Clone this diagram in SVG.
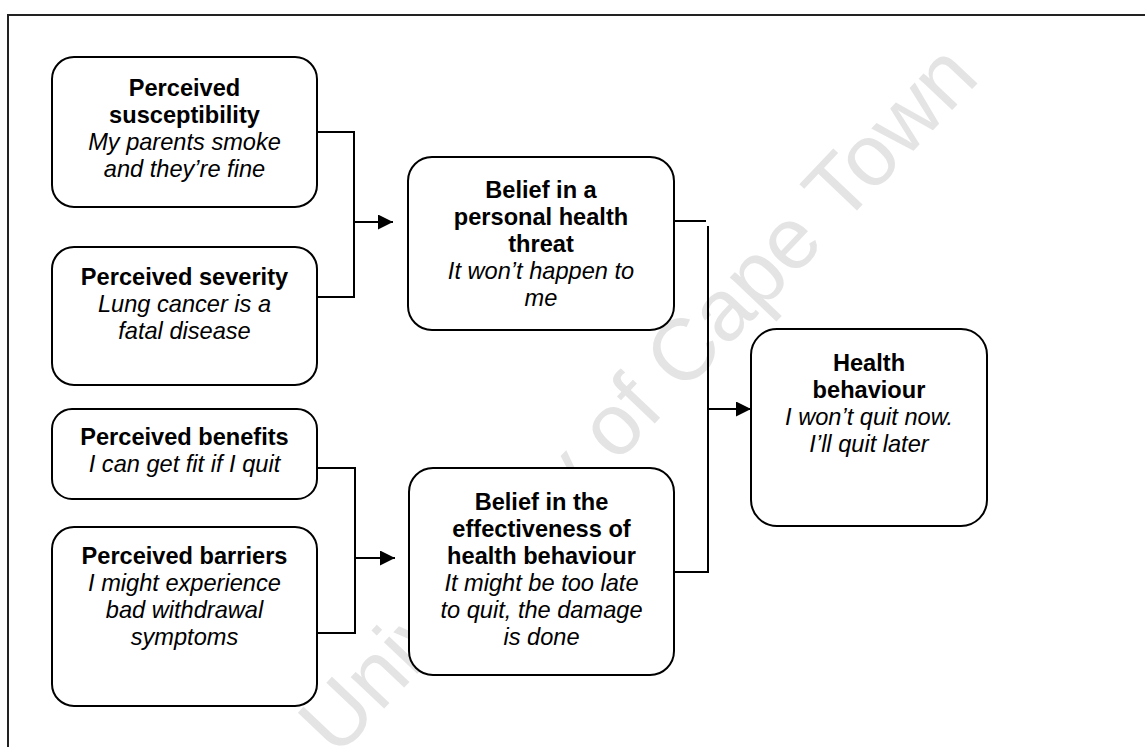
<svg xmlns="http://www.w3.org/2000/svg" width="1145" height="747" viewBox="0 0 1145 747">
<style>
.box{fill:#fff;stroke:#000;stroke-width:2}
.t{font-family:"Liberation Sans",Arial,sans-serif;font-size:23.6px;text-anchor:middle;fill:#000}
.b{font-weight:bold}
.i{font-style:italic}
.c{fill:none;stroke:#000;stroke-width:2}
.wm{font-family:"Liberation Sans",Arial,sans-serif;font-size:87px;fill:#e4e4e4;text-anchor:middle}
</style>
<defs>
<marker id="ah" markerUnits="userSpaceOnUse" markerWidth="16" markerHeight="16" refX="15" refY="7.5" orient="auto">
<path d="M0,0 L15,7.5 L0,15 Z" fill="#000"/>
</marker>
</defs>
<rect width="1145" height="747" fill="#fff"/>
<path d="M8,747 V15 H1145" fill="none" stroke="#222" stroke-width="2"/>
<text class="wm" transform="translate(659,419) rotate(-46.5)">University of Cape Town</text>
<g id="connectors">
<path class="c" d="M317,132 H354 V297 H317"/>
<path class="c" d="M354,222 H393" marker-end="url(#ah)"/>
<path class="c" d="M317,468 H355 V633 H317"/>
<path class="c" d="M355,558 H395" marker-end="url(#ah)"/>
<path class="c" d="M674,221 H706"/>
<path class="c" d="M708,226 V572 H674"/>
<path class="c" d="M708,409 H751" marker-end="url(#ah)"/>
</g>
<g id="susceptibility">
<rect class="box" x="52" y="57" width="265" height="150" rx="22"/>
<text class="t b" x="184.5" y="96">Perceived</text>
<text class="t b" x="184.5" y="123">susceptibility</text>
<text class="t i" x="184.5" y="150">My parents smoke</text>
<text class="t i" x="184.5" y="177">and they’re fine</text>
</g>
<g id="severity">
<rect class="box" x="52" y="247" width="265" height="138" rx="22"/>
<text class="t b" x="184.5" y="285">Perceived severity</text>
<text class="t i" x="184.5" y="312">Lung cancer is a</text>
<text class="t i" x="184.5" y="339">fatal disease</text>
</g>
<g id="benefits">
<rect class="box" x="52" y="409" width="265" height="90" rx="20"/>
<text class="t b" x="184.5" y="445">Perceived benefits</text>
<text class="t i" x="184.5" y="472">I can get fit if I quit</text>
</g>
<g id="barriers">
<rect class="box" x="52" y="527" width="265" height="179" rx="22"/>
<text class="t b" x="184.5" y="564">Perceived barriers</text>
<text class="t i" x="184.5" y="591">I might experience</text>
<text class="t i" x="184.5" y="618">bad withdrawal</text>
<text class="t i" x="184.5" y="645">symptoms</text>
</g>
<g id="threat">
<rect class="box" x="408" y="157" width="266" height="173" rx="24"/>
<text class="t b" x="541" y="198">Belief in a</text>
<text class="t b" x="541" y="225">personal health</text>
<text class="t b" x="541" y="252">threat</text>
<text class="t i" x="541" y="279">It won’t happen to</text>
<text class="t i" x="541" y="306">me</text>
</g>
<g id="effectiveness">
<rect class="box" x="409" y="468" width="265" height="207" rx="24"/>
<text class="t b" x="541.5" y="510">Belief in the</text>
<text class="t b" x="541.5" y="537">effectiveness of</text>
<text class="t b" x="541.5" y="564">health behaviour</text>
<text class="t i" x="541.5" y="591">It might be too late</text>
<text class="t i" x="541.5" y="618">to quit, the damage</text>
<text class="t i" x="541.5" y="645">is done</text>
</g>
<g id="behaviour">
<rect class="box" x="751" y="329" width="236" height="197" rx="26"/>
<text class="t b" x="869" y="371">Health</text>
<text class="t b" x="869" y="398">behaviour</text>
<text class="t i" x="869" y="425">I won’t quit now.</text>
<text class="t i" x="869" y="452">I’ll quit later</text>
</g>
</svg>
